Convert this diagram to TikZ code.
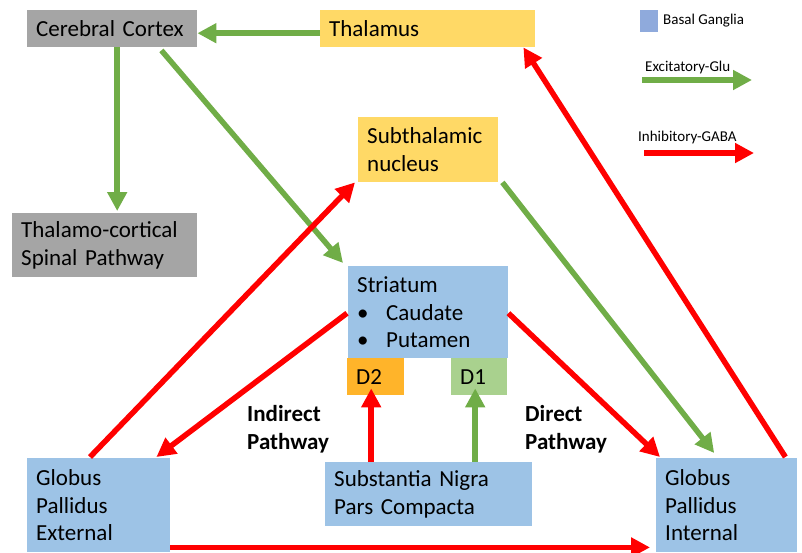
\documentclass[tikz,border=0pt]{standalone}
\usepackage{fontspec}
\setmainfont{Carlito}
\usetikzlibrary{arrows.meta,calc}
\definecolor{cgray}{HTML}{A5A5A5}
\definecolor{cyellow}{HTML}{FFD966}
\definecolor{cblue}{HTML}{9DC3E6}
\definecolor{clegblue}{HTML}{8FAADC}
\definecolor{corange}{HTML}{FFB42A}
\definecolor{cgreenbox}{HTML}{A9D18E}
\definecolor{cgreen}{HTML}{70AD47}
\definecolor{cred}{HTML}{FF0000}
\newcommand\boxfont{\fontsize{23}{27.6}\selectfont}
\newcommand\legfont{\fontsize{15}{18}\selectfont}
\tikzset{
  box/.style={anchor=north west, inner xsep=9pt, inner ysep=0pt, align=left, font=\boxfont, text=black},
  exc/.style={draw=cgreen, line width=5.5pt, -{Triangle[length=19pt,width=19pt]}},
  inh/.style={draw=cred, line width=5.5pt, -{Triangle[length=19pt,width=19pt]}},
  lbl/.style={anchor=west, inner sep=0pt, align=left, font=\boxfont\bfseries},
  leg/.style={anchor=west, inner sep=0pt, font=\legfont},
}
\begin{document}
\begin{tikzpicture}[x=1pt,y=-1pt]
\useasboundingbox (0,0) rectangle (802,552);
% boxes
\node[box, fill=cgray, minimum width=170pt, minimum height=37pt, text width=152pt] (cortex) at (27,10) {Cerebral Cortex};
\node[box, fill=cyellow, minimum width=215pt, minimum height=37pt, text width=197pt] (thal) at (320,10) {Thalamus};
\node[box, fill=cyellow, minimum width=140pt, minimum height=65pt, text width=122pt] (stn) at (358,117) {Subthalamic\\nucleus};
\node[box, fill=cgray, minimum width=185pt, minimum height=64pt, text width=167pt] (tcs) at (12,213) {Thalamo-cortical\\Spinal Pathway};
\node[box, fill=cblue, minimum width=160pt, minimum height=92pt, text width=142pt] (str) at (348,266) {Striatum\\\makebox[29pt][l]{\textbullet}Caudate\\\makebox[29pt][l]{\textbullet}Putamen};
\node[box, fill=corange, minimum width=57pt, minimum height=37pt, text width=39pt, inner xsep=9pt] (d2) at (347,358) {D2};
\node[box, fill=cgreenbox, minimum width=56pt, minimum height=37pt, text width=38pt] (d1) at (451,358) {D1};
\node[box, fill=cblue, minimum width=143pt, minimum height=94pt, text width=125pt] (gpe) at (27,458) {Globus\\Pallidus\\External};
\node[box, fill=cblue, minimum width=207pt, minimum height=64pt, text width=189pt] (snc) at (325,462) {Substantia Nigra\\Pars Compacta};
\node[box, fill=cblue, minimum width=141pt, minimum height=94pt, text width=123pt] (gpi) at (656,458) {Globus\\Pallidus\\Internal};
% labels
\node[lbl] (ind) at (247,429) {Indirect\\Pathway};
\node[lbl] (dir) at (525,429) {Direct\\Pathway};
% legend
\node[fill=clegblue, anchor=north west, minimum width=18pt, minimum height=22pt, inner sep=0pt] (legbox) at (640,10) {};
\node[leg] (legbg) at (663,21) {Basal Ganglia};
\node[leg] (legexc) at (645,67) {Excitatory-Glu};
\node[leg] (leginh) at (638,137) {Inhibitory-GABA};
\coordinate (e1) at (642,80);
\coordinate (e2) at (752,80);
\coordinate (i1) at (644,153);
\coordinate (i2) at (754,153);
\draw[exc, line width=6pt] (e1) -- (e2);
\draw[inh, line width=6pt] (i1) -- (i2);
% connectors
\draw[exc] ($(thal.west)+(0,4.5)$) -- ($(cortex.east)+(0,4.5)$);
\draw[exc] ($(cortex.south)+(5,0)$) -- ($(tcs.north)+(12.5,-2)$);
\draw[exc] ($(cortex.south east)+(-36,3)$) -- ($(str.north west)+(-5,-3)$);
\draw[inh] ($(gpe.north west)+(63,-1)$) -- ($(stn.south west)+(-3,0)$);
\draw[inh] ($(str.west)+(-1,1)$) -- ($(gpe.north east)+(-14,-1)$);
\draw[inh] ($(d2.south |- snc.north)+(-4.5,0)$) -- ($(d2.south)+(-4.5,-7)$);
\draw[exc] ($(d1.south |- snc.north)+(-4,0)$) -- ($(d1.south)+(-4,-7)$);
\draw[inh] ($(str.east)+(0,1)$) -- ($(gpi.north west)+(4,-1)$);
\draw[exc] ($(stn.south east)+(4,0)$) -- ($(gpi.north)+(-12.5,-5)$);
\draw[inh] ($(gpi.north east)+(-12,-1)$) -- ($(thal.south east)+(-12,0)$);
\draw[inh] ($(gpe.south east)+(0,-5)$) -- ($(gpi.south west)+(-6,-5)$);
\end{tikzpicture}
\end{document}
